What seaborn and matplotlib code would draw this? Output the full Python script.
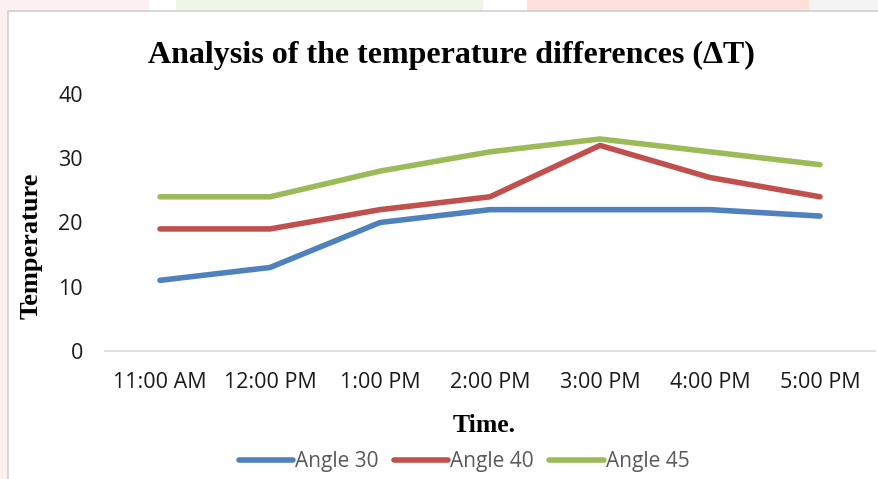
import matplotlib
matplotlib.use("Agg")
import matplotlib.pyplot as plt
import seaborn as sns
import pandas as pd
from matplotlib.patches import Rectangle
from matplotlib.lines import Line2D

times = ["11:00 AM", "12:00 PM", "1:00 PM", "2:00 PM", "3:00 PM", "4:00 PM", "5:00 PM"]
angle30 = [11, 13, 20, 22, 22, 22, 21]
angle40 = [19, 19, 22, 24, 32, 27, 24]
angle45 = [24, 24, 28, 31, 33, 31, 29]
series_names = ["Angle 30", "Angle 40", "Angle 45"]
colors = ["#4F81BD", "#C0504D", "#9BBB59"]

rows = []
for name, vals in zip(series_names, [angle30, angle40, angle45]):
    for i, (t, v) in enumerate(zip(times, vals)):
        rows.append({"pos": i, "Time": t, "Temperature": v, "Series": name})
df = pd.DataFrame(rows)

sns.set_theme(style="white")
plt.rcParams["font.family"] = ["Open Sans", "DejaVu Sans"]

fig = plt.figure(figsize=(8.79, 4.79), dpi=100)
fig.patch.set_facecolor("white")

# faint background strips and chart frame
def bg(x0, y0, w, h, c, z=-3):
    fig.patches.append(Rectangle((x0, y0), w, h, transform=fig.transFigure,
                                 facecolor=c, edgecolor="none", zorder=z))
bg(0, 0, 1, 1, "#fdf0f0")
bg(0.17, 0.97, 0.03, 0.03, "white", -2)
bg(0.20, 0.97, 0.35, 0.03, "#eef7e6", -2)
bg(0.55, 0.97, 0.05, 0.03, "#ffffff", -2)
bg(0.60, 0.97, 0.32, 0.03, "#fde0db", -2)
bg(0.92, 0.97, 0.08, 0.03, "#f4f4f4", -2)
fig.patches.append(Rectangle((8/879, -0.01), 1, 1 - 11/479 + 0.01, transform=fig.transFigure,
                             facecolor="white", edgecolor="#d0d0d0", linewidth=1.2, zorder=-1))

ax = fig.add_axes([105/879, 1 - 351/479, 770/879, (351 - 94)/479])
ax.set_facecolor("none")
sns.lineplot(data=df, x="pos", y="Temperature", hue="Series", palette=colors,
             linewidth=4, ax=ax, legend=False, solid_capstyle="round")

ax.set_xlim(-0.5, 6.5)
ax.set_ylim(0, 40)
ax.set_yticks([0, 10, 20, 30, 40])
ax.set_xticks(range(len(times)))
ax.set_xticklabels(times)
ax.tick_params(axis="both", length=0, labelsize=15.5, colors="#1a1a1a")
ax.tick_params(axis="x", pad=15)
ax.tick_params(axis="y", pad=16)
for s in ["top", "right", "left"]:
    ax.spines[s].set_visible(False)
ax.spines["bottom"].set_color("#d9d9d9")
ax.spines["bottom"].set_linewidth(1.2)
ax.set_xlabel("")
ax.set_ylabel("")

serif = ["Liberation Serif", "DejaVu Serif"]
fig.text(451/879, 1 - 55/479, "Analysis of the temperature differences (ΔT)",
         ha="center", va="center", fontsize=23, fontweight="bold", family=serif, color="black")
fig.text(484/879, 1 - 425/479, "Time.", ha="center", va="center",
         fontsize=18.5, fontweight="bold", family=serif, color="black")
fig.text(31/879, 1 - 246/479, "Temperature", ha="center", va="center", rotation=90,
         fontsize=19, fontweight="bold", family=serif, color="black")

handles = [Line2D([0], [0], color=c, linewidth=4, solid_capstyle="round") for c in colors]
leg = fig.legend(handles, series_names, loc="center", bbox_to_anchor=(464/879, 1 - 462/479),
                 ncol=3, frameon=False, fontsize=15, handlelength=2.6, handletextpad=0.1,
                 columnspacing=0.75)
for t in leg.get_texts():
    t.set_color("#595959")

fig.savefig("out.png", dpi=100)
